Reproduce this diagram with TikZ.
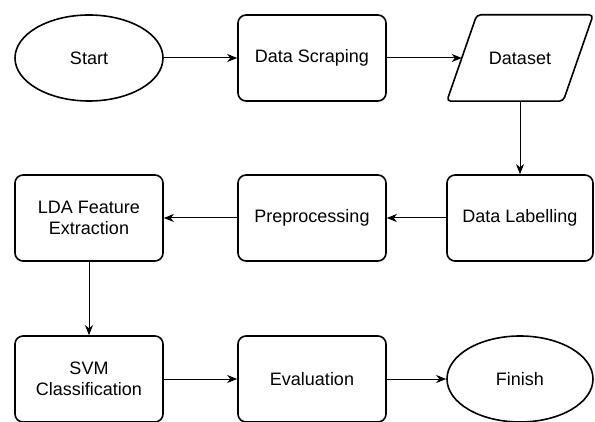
\documentclass[tikz,border=0pt]{standalone}
\usepackage{fontspec}
\setmainfont{Liberation Sans}
\usetikzlibrary{shapes.geometric,arrows.meta}
\begin{document}
\begin{tikzpicture}[x=1pt,y=1pt,
    every node/.style={font=\fontsize{18}{21.5}\selectfont, align=center},
    process/.style={draw, line width=1.6pt, rounded corners=8pt, minimum width=148pt, minimum height=86pt},
    terminal/.style={draw, line width=1.6pt, ellipse, minimum width=148pt, minimum height=86pt},
    data/.style={minimum width=116pt, minimum height=86pt},
    flow/.style={-{Stealth[length=10pt,width=8pt,inset=3pt]}, line width=1pt}]
    \useasboundingbox (0,0) rectangle (595,421);

    \node[terminal] (start) at (89,363) {Start};
    \node[process] (scrape) at (312,363) {Data Scraping};
    \node[data] (dataset) at (520,363) {Dataset};
    \draw[line width=1.6pt, rounded corners=4pt]
        ([xshift=-15pt]dataset.south west) -- ([xshift=15pt]dataset.north west)
        -- ([xshift=15pt]dataset.north east) -- ([xshift=-15pt]dataset.south east) -- cycle;

    \node[process] (lda) at (89,203) {LDA Feature\\Extraction};
    \node[process] (prep) at (312,203) {Preprocessing};
    \node[process, minimum width=146pt] (label) at (520,203) {Data Labelling};

    \node[process] (svm) at (89,42) {SVM\\Classification};
    \node[process] (eval) at (312,42) {Evaluation};
    \node[terminal, minimum width=146pt] (finish) at (520,42) {Finish};

    \draw[flow] (start) -- (scrape);
    \draw[flow] (scrape) -- (dataset);
    \draw[flow] (dataset) -- (label);
    \draw[flow] (label) -- (prep);
    \draw[flow] (prep) -- (lda);
    \draw[flow] (lda) -- (svm);
    \draw[flow] (svm) -- (eval);
    \draw[flow] (eval) -- (finish);
\end{tikzpicture}
\end{document}
